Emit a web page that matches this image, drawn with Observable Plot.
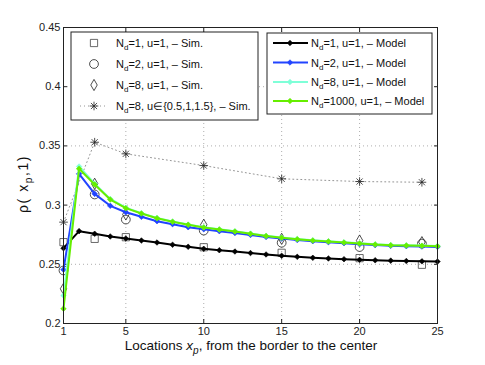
<!DOCTYPE html>
<html><head><meta charset="utf-8">
<script src="https://cdn.jsdelivr.net/npm/d3@7"></script>
<script src="https://cdn.jsdelivr.net/npm/@observablehq/plot@0.6"></script>
<style>
html,body{margin:0;padding:0;background:#fff;}
#chart{width:485px;height:365px;}
svg{font-family:"Liberation Sans",Arial,sans-serif;}
</style></head><body><div id="chart"></div>
<script>
// ---- data ----
const locations = d3.range(1, 26);
const xTicks = [1, 5, 10, 15, 20, 25];
const yTicks = [0.2, 0.25, 0.3, 0.35, 0.4, 0.45];
const simLocations = [1, 3, 5, 10, 15, 20, 24];

const modelNd1    = [0.2636,0.2780,0.2758,0.2735,0.2718,0.2701,0.2684,0.2665,0.2648,0.2631,0.2619,0.2608,0.2595,0.2583,0.2572,0.2563,0.2555,0.2549,0.2543,0.2538,0.2534,0.2531,0.2528,0.2525,0.2523];
const modelNd2    = [0.2455,0.3264,0.3095,0.2994,0.2940,0.2901,0.2864,0.2839,0.2813,0.2796,0.2780,0.2764,0.2748,0.2731,0.2717,0.2705,0.2695,0.2687,0.2678,0.2670,0.2662,0.2656,0.2653,0.2650,0.2647];
const modelNd8    = [0.2236,0.3326,0.3180,0.3052,0.2978,0.2932,0.2892,0.2862,0.2836,0.2813,0.2796,0.2779,0.2760,0.2741,0.2726,0.2714,0.2703,0.2695,0.2686,0.2678,0.2669,0.2663,0.2661,0.2658,0.2655];
const modelNd1000 = [0.2124,0.3307,0.3174,0.3047,0.2974,0.2929,0.2889,0.2859,0.2834,0.2811,0.2794,0.2777,0.2758,0.2739,0.2724,0.2712,0.2701,0.2693,0.2684,0.2676,0.2667,0.2661,0.2659,0.2656,0.2653];

const simNd1  = [0.2687,0.2715,0.2729,0.2644,0.2597,0.2552,0.2496];
const simNd2  = [0.2448,0.3090,0.2878,0.2785,0.2682,0.2646,0.2675];
const simNd8  = [0.2293,0.3180,0.2921,0.2834,0.2715,0.2701,0.2687];
const simNd8u = [0.2856,0.3531,0.3433,0.3334,0.3222,0.3199,0.3193];

const modelLabels = ["=1, u=1, \u2013 Model", "=2, u=1, \u2013 Model", "=8, u=1, \u2013 Model", "=1000, u=1, \u2013 Model"];
const simLabels = ["=1, u=1, \u2013 Sim.", "=2, u=1, \u2013 Sim.", "=8, u=1, \u2013 Sim.", "=8, u\u2208{0.5,1,1.5}, \u2013 Sim."];
const modelColors = ["#000000", "#2244ff", "#7fffd8", "#66ee00"];

// ---- build tables ----
const modelSeries = [modelNd1, modelNd2, modelNd8, modelNd1000].map((vals, k) =>
  vals.map((v, i) => ({x: locations[i], y: v, k})));
const simTable = (vals) => vals.map((v, i) => ({x: simLocations[i], y: v}));

const gridStyle = {stroke: "#999", strokeOpacity: 1, strokeDasharray: "1,3", strokeWidth: 0.8};

const marks = [
  Plot.gridX(xTicks, gridStyle),
  Plot.gridY(yTicks, gridStyle),
  Plot.axisX(xTicks, {anchor: "bottom", tickSize: -4, tickPadding: 8, fontSize: 11, tickFormat: d => String(d), label: null}),
  Plot.axisX(xTicks, {anchor: "top", tickSize: -4, tickFormat: () => "", label: null}),
  Plot.axisY(yTicks, {anchor: "left", tickSize: -4, tickPadding: 7, fontSize: 11, tickFormat: d => String(d), label: null}),
  Plot.axisY(yTicks, {anchor: "right", tickSize: -4, tickFormat: () => "", label: null}),
  // simulation markers
  Plot.line(simTable(simNd8u), {x: "x", y: "y", stroke: "#888", strokeWidth: 0.9, strokeDasharray: "1,3"}),
  Plot.dot(simTable(simNd8u), {x: "x", y: "y", symbol: "plus", r: 2.9, stroke: "#222", strokeWidth: 0.8}),
  Plot.dot(simTable(simNd8u), {x: "x", y: "y", symbol: "times", r: 2.9, stroke: "#222", strokeWidth: 0.8}),
  Plot.dot(simTable(simNd1), {x: "x", y: "y", symbol: "square2", r: 4.6, stroke: "#444", strokeWidth: 0.8, fill: "none"}),
  Plot.dot(simTable(simNd2), {x: "x", y: "y", symbol: "circle", r: 4.4, stroke: "#222", strokeWidth: 0.8, fill: "none"}),
  Plot.dot(simTable(simNd8), {x: "x", y: "y", symbol: "diamond", r: 3.4, stroke: "#222", strokeWidth: 0.8, fill: "none"}),
];
modelSeries.forEach((rows, k) => {
  marks.push(Plot.line(rows, {x: "x", y: "y", stroke: modelColors[k], strokeWidth: 2}));
  marks.push(Plot.dot(rows, {x: "x", y: "y", symbol: "diamond2", r: 2.5, fill: modelColors[k], stroke: modelColors[k], strokeWidth: 0.6}));
});
marks.push(Plot.frame({stroke: "#222", strokeWidth: 1}));

const plot = Plot.plot({
  width: 485, height: 365,
  marginLeft: 63, marginRight: 48, marginTop: 27, marginBottom: 42,
  style: {fontFamily: "'Liberation Sans', Arial, sans-serif", fontSize: "11px", background: "#fff", color: "#222"},
  x: {domain: [1, 25], label: null},
  y: {domain: [0.2, 0.45], label: null},
  marks
});
document.getElementById("chart").appendChild(plot);

// ---- annotations: axis titles and legends (text / layout) ----
const svg = d3.select(plot);
const font = "'Liberation Sans', Arial, sans-serif";

// x title
const xt = svg.append("text").attr("x", 251).attr("y", 350).attr("text-anchor", "middle")
  .attr("font-size", 13.5).attr("font-family", font).attr("fill", "#111");
xt.append("tspan").text("Locations ");
xt.append("tspan").attr("font-style", "italic").text("x");
xt.append("tspan").attr("font-size", 10).attr("dy", 4).attr("font-style", "italic").text("p");
xt.append("tspan").attr("dy", -4).text(", from the border to the center");

// y title
const yt = svg.append("text").attr("transform", "translate(28,184) rotate(-90)").attr("text-anchor", "middle")
  .attr("font-size", 14).attr("letter-spacing", 1.6).attr("font-family", font).attr("fill", "#111");
yt.append("tspan").text("\u03c1( x");
yt.append("tspan").attr("font-size", 10).attr("dy", 4).text("p");
yt.append("tspan").attr("dy", -4).text(",1)");

function ndText(g, x, y, rest) {
  const t = g.append("text").attr("x", x).attr("y", y + 4).attr("font-size", 11)
    .attr("text-anchor", "start").attr("font-family", font).attr("fill", "#111");
  t.append("tspan").text("N");
  t.append("tspan").attr("font-size", 8).attr("dy", 3).text("d");
  t.append("tspan").attr("dy", -3).text(rest);
}

// left legend (simulations)
const L = svg.append("g").attr("text-anchor", "start");
L.append("rect").attr("x", 71).attr("y", 32).attr("width", 187).attr("height", 88)
  .attr("fill", "#fff").attr("stroke", "#222").attr("stroke-width", 1);
const rowsL = [43, 64, 85, 106];
const sym = (type, size) => d3.symbol(type, size)();
L.append("path").attr("transform", `translate(94,${rowsL[0]})`).attr("d", sym(d3.symbolSquare2, Math.PI * 4.6 * 4.6))
  .attr("fill", "none").attr("stroke", "#444").attr("stroke-width", 0.8);
L.append("path").attr("transform", `translate(94,${rowsL[1]})`).attr("d", sym(d3.symbolCircle, Math.PI * 4.4 * 4.4))
  .attr("fill", "none").attr("stroke", "#222").attr("stroke-width", 0.8);
L.append("path").attr("transform", `translate(94,${rowsL[2]})`).attr("d", sym(d3.symbolDiamond, Math.PI * 3.4 * 3.4))
  .attr("fill", "none").attr("stroke", "#222").attr("stroke-width", 0.8);
L.append("line").attr("x1", 80).attr("x2", 108).attr("y1", rowsL[3]).attr("y2", rowsL[3])
  .attr("stroke", "#888").attr("stroke-width", 0.9).attr("stroke-dasharray", "1,3");
L.append("path").attr("transform", `translate(94,${rowsL[3]})`).attr("d", sym(d3.symbolPlus, Math.PI * 2.9 * 2.9))
  .attr("fill", "none").attr("stroke", "#222").attr("stroke-width", 0.8);
L.append("path").attr("transform", `translate(94,${rowsL[3]})`).attr("d", sym(d3.symbolTimes, Math.PI * 2.9 * 2.9))
  .attr("fill", "none").attr("stroke", "#222").attr("stroke-width", 0.8);
simLabels.forEach((s, i) => ndText(L, 116, rowsL[i], s));

// right legend (models)
const R = svg.append("g").attr("text-anchor", "start");
R.append("rect").attr("x", 267).attr("y", 33).attr("width", 165).attr("height", 81)
  .attr("fill", "#fff").attr("stroke", "#222").attr("stroke-width", 1);
const rowsR = [43, 62.5, 82, 101];
modelLabels.forEach((s, i) => {
  R.append("line").attr("x1", 273).attr("x2", 308).attr("y1", rowsR[i]).attr("y2", rowsR[i])
    .attr("stroke", modelColors[i]).attr("stroke-width", 2);
  R.append("path").attr("transform", `translate(290,${rowsR[i]})`).attr("d", sym(d3.symbolDiamond2, Math.PI * 2.5 * 2.5))
    .attr("fill", modelColors[i]).attr("stroke", modelColors[i]).attr("stroke-width", 0.6);
  ndText(R, 311, rowsR[i], s);
});
</script></body></html>
